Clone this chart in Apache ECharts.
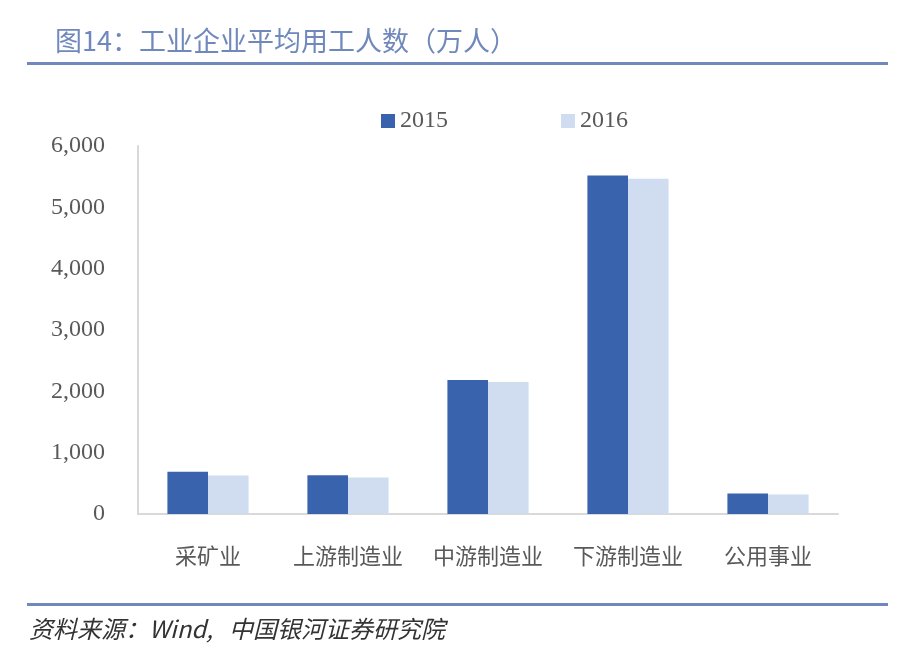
<!DOCTYPE html>
<html><head><meta charset="utf-8">
<script src="https://cdn.jsdelivr.net/npm/echarts@6/dist/echarts.min.js"></script>
<style>html,body{margin:0;padding:0;background:#fff}#c{width:901px;height:655px}</style>
</head><body><div id="c"></div>
<script>
const categories = ['采矿业','上游制造业','中游制造业','下游制造业','公用事业'];
const seriesNames = ['2015','2016'];
const values2015 = [687, 632, 2185, 5517, 334];
const values2016 = [627, 594, 2153, 5464, 318];
const yTicks = [0, 1000, 2000, 3000, 4000, 5000, 6000];

const chart = echarts.init(document.getElementById('c'));
const serif = '"Liberation Serif","DejaVu Serif",serif';
const cjk = '"Noto Sans CJK SC","Noto Sans",sans-serif';
chart.setOption({
  animation: false,
  backgroundColor: '#fff',
  title: {
    text: '图14：工业企业平均用工人数（万人）',
    left: 50, top: 22,
    textStyle: {color: '#7088bc', fontSize: 27, fontWeight: 'normal', fontFamily: cjk}
  },
  graphic: [
    {type: 'rect', shape: {x: 27, y: 62, width: 861, height: 3}, style: {fill: '#7088bb'}},
    {type: 'rect', shape: {x: 27, y: 603, width: 861, height: 3}, style: {fill: '#7088bb'}},
    {type: 'text', left: 29, top: 617, style: {text: '资料来源：Wind,   中国银河证券研究院', fill: '#333', font: 'italic 24px "Noto Sans CJK SC","Liberation Serif",serif'}}
  ],
  legend: {
    data: seriesNames,
    left: 376, top: 104,
    itemWidth: 14, itemHeight: 14, itemGap: 113,
    icon: 'rect',
    textStyle: {color: '#595959', fontSize: 24, fontFamily: serif}
  },
  grid: {left: 138, right: 63, top: 146, bottom: 141},
  xAxis: {
    type: 'category', data: categories,
    axisLine: {lineStyle: {color: '#d9d9d9', width: 2}},
    axisTick: {show: false},
    axisLabel: {color: '#595959', fontSize: 22, fontFamily: cjk, margin: 31, interval: 0, hideOverlap: false}
  },
  yAxis: {
    type: 'value', min: yTicks[0], max: yTicks[yTicks.length-1], interval: 1000,
    axisLine: {show: true, lineStyle: {color: '#d9d9d9', width: 2}},
    axisTick: {show: false},
    splitLine: {show: false},
    axisLabel: {color: '#595959', fontSize: 24, fontFamily: serif, margin: 33,
      formatter: v => v.toLocaleString('en-US')}
  },
  series: [
    {name: seriesNames[0], type: 'bar', data: values2015, barWidth: '29%', barGap: '0%',
     itemStyle: {color: '#3a63ae'}},
    {name: seriesNames[1], type: 'bar', data: values2016, barWidth: '29%',
     itemStyle: {color: '#d0ddf0'}}
  ]
});
</script></body></html>
